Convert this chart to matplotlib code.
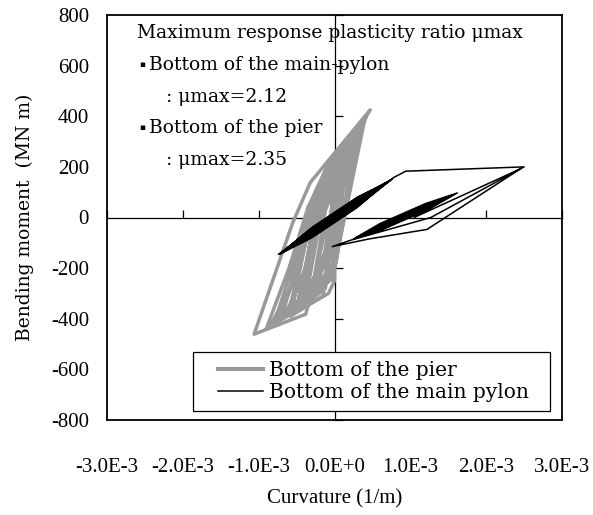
import matplotlib
matplotlib.use("Agg")
import matplotlib.pyplot as plt
from matplotlib.patches import Rectangle
import numpy as np

# Curvature in 1e-3 (1/m), moment in MN m
pier_curv = [0.00, 0.10, 0.00, -0.15, -0.05,
             0.18, 0.01, -0.28, -0.12,
             0.26, 0.02, -0.42, -0.25, -0.10,
             0.34, 0.00, -0.55, -0.35, -0.18,
             0.40, 0.03, -0.18, -0.38, -1.06, -0.55, -0.32,
             0.47, 0.03, 0.00, -0.08, -0.80, -0.45, -0.22,
             0.38, 0.02, -0.02, -0.70, -0.48, -0.28,
             0.30, 0.01, -0.03, -0.60, -0.40, -0.20,
             0.22, 0.00, -0.04, -0.48, -0.32, -0.12,
             0.42, 0.05, 0.00, -0.20, -0.90, -0.60, -0.35, -0.10,
             0.35, 0.00, -0.05, -0.30, -0.75, -0.55, -0.40, -0.20,
             0.28, -0.02, -0.08, -0.50, -0.38, -0.28, -0.05,
             0.20, -0.03, -0.10, -0.65, -0.45, -0.30, -0.15,
             0.32, -0.01, -0.12, -0.85, -0.62, -0.42, -0.25,
             0.25, -0.04, -0.15, -0.58, -0.52, -0.35, -0.18,
             0.16, -0.01, -0.36, -0.22, -0.05,
             0.08, -0.02, -0.25, -0.12, 0.00]
pier_mom = [0, 180, -60, -180, 20,
            250, -120, -260, 30,
            300, -180, -320, -20, 150,
            350, -200, -350, -50, 140,
            390, -150, -165, -382, -461, -20, 138,
            425, 200, -250, -300, -420, -100, 120,
            375, 80, -240, -400, -160, 60,
            330, 0, -230, -370, -120, 100,
            290, -40, -210, -330, -100, 120,
            400, 120, -180, -300, -440, -200, 40, 200,
            370, 150, -100, -330, -410, -260, -60, 110,
            340, 120, -160, -360, -200, -20, 180,
            300, 50, -260, -380, -260, -120, 60,
            350, 20, -280, -430, -300, -140, 40,
            310, 0, -310, -390, -300, -180, 20,
            240, -80, -290, -60, 110,
            170, -60, -230, -40, 30]

pylon_curv = [0.00, 0.20, 0.00, -0.25, 0.00,
              0.72, 0.30, -0.30, -0.70, -0.30, 0.30,
              0.76, 0.30, -0.30, -0.72, -0.30, 0.30,
              0.68, 0.30, -0.30, -0.74, -0.30, 0.30,
              0.74, 0.30, -0.30, -0.66, -0.30, 0.30,
              0.70, 0.30, -0.30, -0.72, -0.30, 0.30,
              0.64, 0.30, -0.30, -0.68, -0.30, 0.30,
              0.60, 0.30, -0.30, -0.62, -0.30, 0.30,
              0.50, 0.30, -0.30, -0.55, -0.30, 0.30,
              0.78, 0.94, 2.50, 1.27, 0.21, -0.03, 0.45, 1.22, 2.45, 1.05,
              1.62, 1.20, 0.60, 0.25, 0.60, 1.20,
              1.55, 1.20, 0.60, 0.28, 0.60, 1.20,
              1.50, 1.20, 0.60, 0.32, 0.60, 1.20,
              1.45, 1.20, 0.60, 0.35, 0.60, 1.20,
              1.40, 1.20, 0.60, 0.30, 0.60, 1.20,
              1.35, 1.20, 0.60, 0.40, 0.60, 0.90]
pylon_mom = [0, 45, -12, -55, 12,
             144, 78, -42, -140, -78, 42,
             152, 68, -52, -144, -70, 50,
             136, 74, -46, -146, -64, 56,
             148, 64, -56, -132, -74, 46,
             140, 80, -40, -144, -80, 40,
             128, 70, -50, -136, -68, 52,
             120, 62, -58, -124, -62, 58,
             100, 72, -48, -110, -72, 48,
             158, 183, 200, 0, -90, -115, -85, -47, 192, 0,
             97, 55, -24, -85, -52, 27,
             88, 49, -30, -81, -46, 33,
             81, 45, -34, -76, -44, 37,
             75, 51, -28, -72, -50, 31,
             68, 43, -36, -78, -40, 39,
             61, 47, -32, -65, -42, 0]

x_ticks = [-3e-3, -2e-3, -1e-3, 0.0, 1e-3, 2e-3, 3e-3]
x_labels = ['-3.0E-3', '-2.0E-3', '-1.0E-3', '0.0E+0', '1.0E-3', '2.0E-3', '3.0E-3']
y_ticks = [-800, -600, -400, -200, 0, 200, 400, 600, 800]

W, H = 593, 515
fig = plt.figure(figsize=(W / 100, H / 100), dpi=100)
pos = [107 / W, 1 - 420 / H, (562 - 107) / W, (420 - 15) / H]

# axes lines crossing at zero, drawn underneath the curves
ax0 = fig.add_axes(pos)
ax = fig.add_axes(pos, sharex=ax0, sharey=ax0)
ax0.set_zorder(0)
ax.set_zorder(1)
ax.patch.set_visible(False)

ax0.spines['left'].set_position(('data', 0))
ax0.spines['bottom'].set_position(('data', 0))
ax0.spines['top'].set_visible(False)
ax0.spines['right'].set_visible(False)
for s in ['left', 'bottom']:
    ax0.spines[s].set_linewidth(0.9)
ax0.tick_params(direction='in', length=6, width=0.9, labelleft=False, labelbottom=False)

ax.plot(np.array(pier_curv) * 1e-3, pier_mom, color='#999999', lw=2.5,
        label='Bottom of the pier')
ax.plot(np.array(pylon_curv) * 1e-3, pylon_mom, color='black', lw=1.1,
        label='Bottom of the main pylon')

ax.set_xlim(-3e-3, 3e-3)
ax.set_ylim(-800, 800)
ax.set_xticks(x_ticks)
ax.set_xticklabels(x_labels, family='Liberation Serif', fontsize=15)
ax.set_yticks(y_ticks)
ax.set_yticklabels([str(v) for v in y_ticks], family='Liberation Serif', fontsize=15)
ax.tick_params(axis='x', length=0, pad=27)
ax.tick_params(axis='y', length=0, pad=13)
for s in ax.spines.values():
    s.set_linewidth(1.3)

ax.set_xlabel('Curvature (1/m)', family='Liberation Serif', fontsize=15, labelpad=9)
ax.set_ylabel('Bending moment  (MN m)', family='DejaVu Serif', fontsize=13.5, labelpad=12)

# legend box with extra room on the sides
box = Rectangle((193 / W, 1 - 411 / H), (550 - 193) / W, (411 - 352) / H,
                transform=fig.transFigure, facecolor='white', edgecolor='black',
                lw=0.9, zorder=3)
ax.add_artist(box)
box.set_clip_on(False)
leg = ax.legend(loc='upper left', bbox_to_anchor=(218 / W, 1 - 361 / H),
                bbox_transform=fig.transFigure, borderaxespad=0,
                prop={'family': 'DejaVu Serif', 'size': 14.5},
                frameon=False, handlelength=2.25, handletextpad=0.3,
                labelspacing=0.15, borderpad=0)
leg.set_zorder(4)
leg.get_lines()[0].set_linewidth(3.0)

# note on ductility ratios
note = [(137, 33, 'Maximum response plasticity ratio \u03bcmax'),
        (149, 65, 'Bottom of the main-pylon'),
        (166, 97, ': \u03bcmax=2.12'),
        (149, 128, 'Bottom of the pier'),
        (166, 160, ': \u03bcmax=2.35')]
for x, y, s in note:
    fig.text(x / W, 1 - y / H, s, family='DejaVu Serif',
             fontsize=13.5, va='center', ha='left', zorder=5)
for y in [65, 128]:
    fig.text(142 / W, 1 - y / H, '\u25aa', family='DejaVu Sans',
             fontsize=6.5, va='center', ha='center', zorder=5)

fig.savefig('out.png', dpi=100)
